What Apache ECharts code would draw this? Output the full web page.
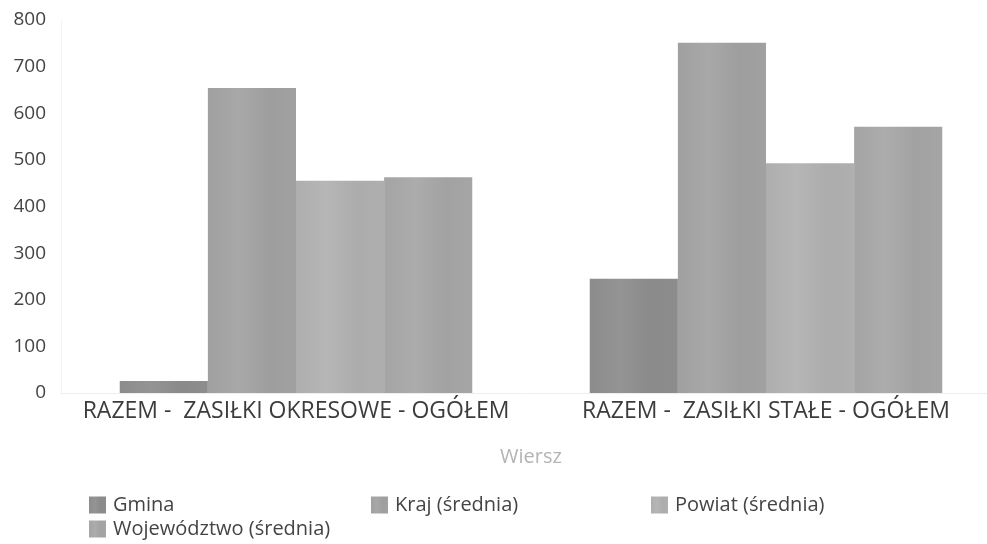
<!DOCTYPE html>
<html>
<head>
<meta charset="utf-8">
<script src="https://cdn.jsdelivr.net/npm/echarts@6/dist/echarts.min.js"></script>
<style>
  html, body { margin: 0; padding: 0; background: #fff; }
  #main { width: 987px; height: 544px; }
</style>
</head>
<body>
<div id="main"></div>
<script>
let categories = ['RAZEM -  ZASIŁKI OKRESOWE - OGÓŁEM', 'RAZEM -  ZASIŁKI STAŁE - OGÓŁEM'];
let gmina = [26, 245];
let kraj = [654, 751];
let powiat = [455, 493];
let wojewodztwo = [463, 571];
let yTicks = [0, 100, 200, 300, 400, 500, 600, 700, 800];

let names = ['Gmina', 'Kraj (średnia)', 'Powiat (średnia)', 'Województwo (średnia)'];
let colors = ['#8e8e8e', '#a2a2a2', '#b0b0b0', '#a6a6a6'];
let values = [gmina, kraj, powiat, wojewodztwo];

let myChart = echarts.init(document.getElementById('main'));
let font = '"Open Sans", "Noto Sans", sans-serif';

// slightly shaded bar fill, lighter stripe left of centre like the scan
function shade(c, k) {
  let v = parseInt(c.slice(1, 3), 16) + k;
  v = Math.max(0, Math.min(255, v));
  let h = v.toString(16);
  if (h.length < 2) h = '0' + h;
  return '#' + h + h + h;
}
function barFill(c) {
  return new echarts.graphic.LinearGradient(0, 0, 1, 0, [
    { offset: 0, color: shade(c, -2) },
    { offset: 0.35, color: shade(c, 6) },
    { offset: 0.7, color: shade(c, -4) },
    { offset: 1, color: shade(c, -1) }
  ]);
}

// one legend per item so they sit in fixed columns
let legendPos = [[84, 490], [366, 490], [646, 490], [84, 514]];
let legends = names.map(function(n, i) {
  return {
    data: [n],
    left: legendPos[i][0],
    top: legendPos[i][1],
    itemWidth: 17,
    itemHeight: 17,
    itemGap: 8,
    icon: 'rect',
    textStyle: { color: '#444', fontSize: 20, lineHeight: 20, fontFamily: font, padding: [0, 0, 0, 2] }
  };
});

let option = {
  animation: false,
  color: colors,
  legend: legends,
  grid: {
    left: 61,
    top: 20,
    width: 940,
    height: 373,
    outerBoundsMode: 'none',
    containLabel: false
  },
  xAxis: {
    type: 'category',
    data: categories,
    name: 'Wiersz',
    nameLocation: 'middle',
    nameGap: 54,
    nameTextStyle: { color: '#b4b4b4', fontSize: 20, fontFamily: font },
    axisLine: { lineStyle: { color: '#eeeeee' } },
    axisTick: { show: false },
    axisLabel: {
      color: '#3c3c3c', fontSize: 23, fontFamily: font, margin: 7,
      interval: 0, hideOverlap: false
    }
  },
  yAxis: {
    type: 'value',
    min: yTicks[0],
    max: yTicks[yTicks.length - 1],
    interval: 100,
    axisLine: { show: true, lineStyle: { color: '#f4f4f4' } },
    splitLine: { show: false },
    axisLabel: { color: '#444', fontSize: 19, fontFamily: font, margin: 15 }
  },
  series: names.map(function(n, i) {
    return {
      name: n,
      type: 'bar',
      data: values[i],
      barGap: '0%',
      barCategoryGap: '25%',
      itemStyle: { color: barFill(colors[i]) }
    };
  })
};
myChart.setOption(option);
</script>
</body>
</html>
